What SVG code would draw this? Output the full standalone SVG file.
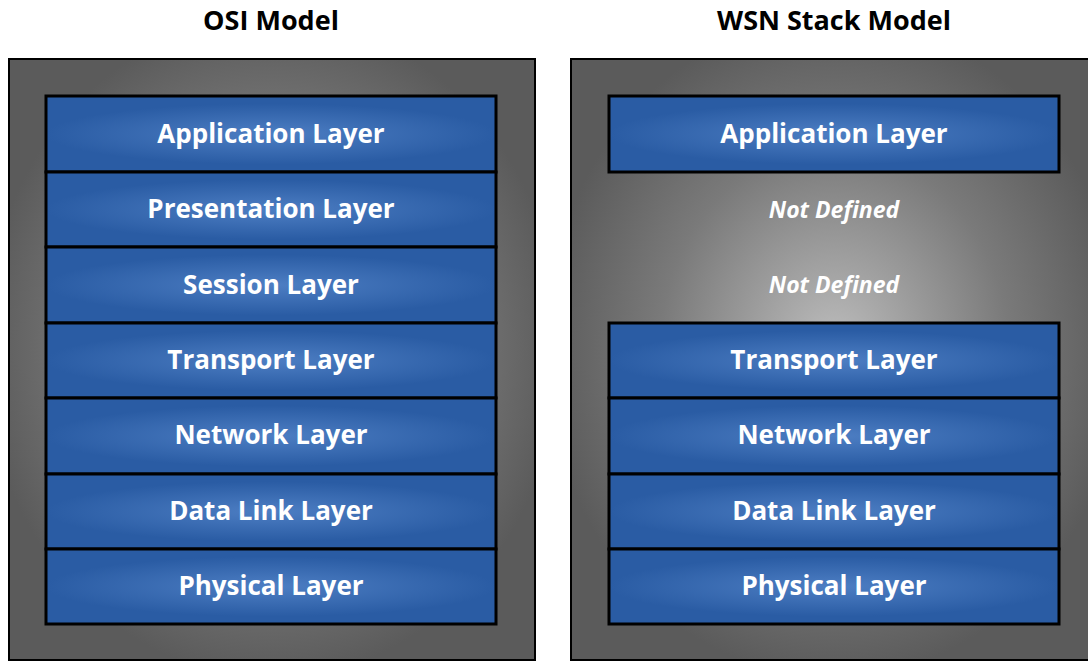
<svg xmlns="http://www.w3.org/2000/svg" width="1088" height="662" viewBox="0 0 1088 662">
<defs>
<radialGradient id="gray" cx="50%" cy="48%" r="55%">
<stop offset="0" stop-color="#bdbdbd"/>
<stop offset="0.6" stop-color="#7a7a7a"/>
<stop offset="1" stop-color="#5b5b5b"/>
</radialGradient>
<radialGradient id="blue" cx="50%" cy="50%" r="50%" gradientTransform="translate(0.5 0.5) scale(1 0.8) translate(-0.5 -0.5)">
<stop offset="0" stop-color="#4d7ec3"/>
<stop offset="1" stop-color="#2a5ca4"/>
</radialGradient>
</defs>
<style>
.outer{fill:url(#gray);stroke:#000;stroke-width:2}
.layer{fill:url(#blue);stroke:#000;stroke-width:3}
.lbl{font-family:"Open Sans",Lato,sans-serif;font-weight:bold;font-size:26px;fill:#fff;text-anchor:middle}
.nd{font-family:"Open Sans",Lato,sans-serif;font-weight:bold;font-style:italic;font-size:23px;fill:#fff;text-anchor:middle}
.title{font-family:"Open Sans",Lato,sans-serif;font-weight:bold;font-size:27px;fill:#000;text-anchor:middle}
</style>
<rect width="1088" height="662" fill="#fff"/>
<text class="title" x="271" y="30">OSI Model</text>
<text class="title" x="834" y="30">WSN Stack Model</text>
<g id="osi">
<rect class="outer" x="9" y="59" width="526" height="601"/>
<g id="osi-app"><rect class="layer" x="46" y="96" width="450" height="76"/><text class="lbl" x="271" y="143">Application Layer</text></g>
<g id="osi-pres"><rect class="layer" x="46" y="172" width="450" height="75"/><text class="lbl" x="271" y="218">Presentation Layer</text></g>
<g id="osi-sess"><rect class="layer" x="46" y="247" width="450" height="76"/><text class="lbl" x="271" y="294">Session Layer</text></g>
<g id="osi-trans"><rect class="layer" x="46" y="323" width="450" height="75"/><text class="lbl" x="271" y="369">Transport Layer</text></g>
<g id="osi-net"><rect class="layer" x="46" y="398" width="450" height="76"/><text class="lbl" x="271" y="444">Network Layer</text></g>
<g id="osi-dl"><rect class="layer" x="46" y="474" width="450" height="75"/><text class="lbl" x="271" y="520">Data Link Layer</text></g>
<g id="osi-phy"><rect class="layer" x="46" y="549" width="450" height="75"/><text class="lbl" x="271" y="595">Physical Layer</text></g>
</g>
<g id="wsn">
<rect class="outer" x="571" y="59" width="526" height="601"/>
<g id="wsn-app"><rect class="layer" x="609" y="96" width="450" height="76"/><text class="lbl" x="834" y="143">Application Layer</text></g>
<text class="nd" x="834" y="218">Not Defined</text>
<text class="nd" x="834" y="293">Not Defined</text>
<g id="wsn-trans"><rect class="layer" x="609" y="323" width="450" height="75"/><text class="lbl" x="834" y="369">Transport Layer</text></g>
<g id="wsn-net"><rect class="layer" x="609" y="398" width="450" height="76"/><text class="lbl" x="834" y="444">Network Layer</text></g>
<g id="wsn-dl"><rect class="layer" x="609" y="474" width="450" height="75"/><text class="lbl" x="834" y="520">Data Link Layer</text></g>
<g id="wsn-phy"><rect class="layer" x="609" y="549" width="450" height="75"/><text class="lbl" x="834" y="595">Physical Layer</text></g>
</g>
<g id="connectors"/>
</svg>
